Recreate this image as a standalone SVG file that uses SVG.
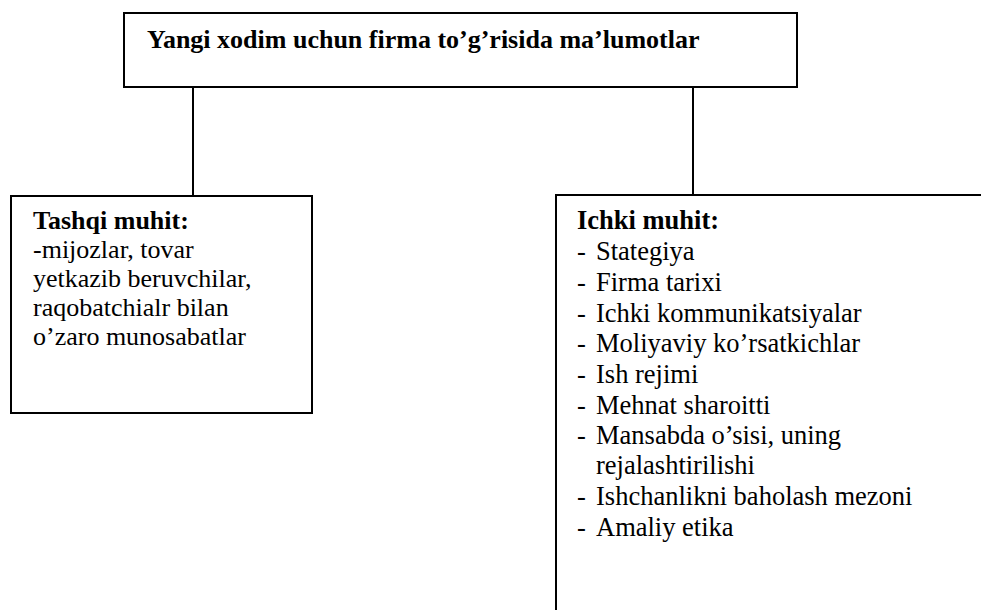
<svg xmlns="http://www.w3.org/2000/svg" width="981" height="610" viewBox="0 0 981 610">
<style>
.box{fill:#fff;stroke:#000;stroke-width:2}
.ln{stroke:#000;stroke-width:2;fill:none}
text{font-family:'Liberation Serif','DejaVu Serif',serif;font-size:26px;fill:#000}
.b{font-weight:bold}
#ichki text{font-size:26.5px}
</style>
<rect width="981" height="610" fill="#fff"/>
<g id="connectors">
<line class="ln" x1="193" y1="87" x2="193" y2="196"/>
<line class="ln" x1="693" y1="87" x2="693" y2="195"/>
</g>
<g id="top">
<rect class="box" x="124" y="13" width="673" height="74"/>
<text class="b" x="147" y="48">Yangi xodim uchun firma to’g’risida ma’lumotlar</text>
</g>
<g id="tashqi">
<rect class="box" x="11" y="196" width="301" height="217"/>
<text x="33" y="229" class="b">Tashqi muhit:</text>
<text x="33" y="258">-mijozlar, tovar</text>
<text x="33" y="287">yetkazib beruvchilar,</text>
<text x="33" y="316">raqobatchialr bilan</text>
<text x="33" y="345">o’zaro munosabatlar</text>
</g>
<g id="ichki">
<rect class="box" x="556" y="195" width="440" height="430"/>
<text x="577" y="229" class="b">Ichki muhit:</text>
<text x="577" y="260">-</text><text x="596" y="260">Stategiya</text>
<text x="577" y="291">-</text><text x="596" y="291">Firma tarixi</text>
<text x="577" y="322">-</text><text x="596" y="322">Ichki kommunikatsiyalar</text>
<text x="577" y="352">-</text><text x="596" y="352">Moliyaviy ko’rsatkichlar</text>
<text x="577" y="383">-</text><text x="596" y="383">Ish rejimi</text>
<text x="577" y="414">-</text><text x="596" y="414">Mehnat sharoitti</text>
<text x="577" y="444">-</text><text x="596" y="444">Mansabda o’sisi, uning</text>
<text x="596" y="474">rejalashtirilishi</text>
<text x="577" y="505">-</text><text x="596" y="505">Ishchanlikni baholash mezoni</text>
<text x="577" y="536">-</text><text x="596" y="536">Amaliy etika</text>
</g>
</svg>
